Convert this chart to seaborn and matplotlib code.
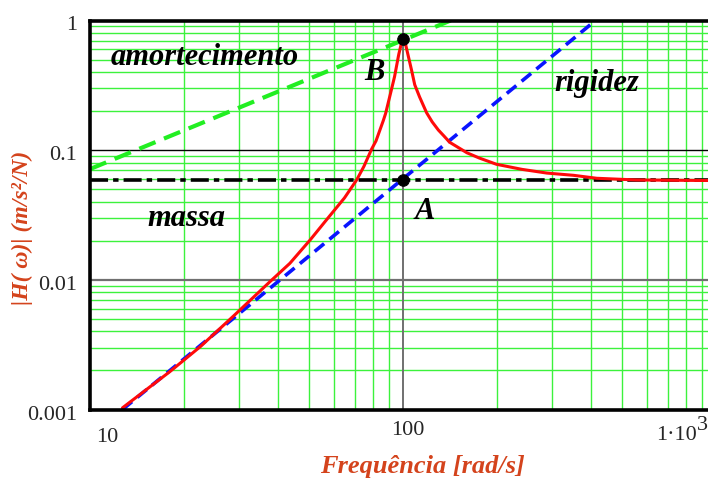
import matplotlib
matplotlib.use("Agg")
import matplotlib.pyplot as plt
import matplotlib.transforms as mtransforms
from matplotlib.ticker import LogLocator, NullFormatter
import seaborn as sns
import pandas as pd

# Accelerance curve of the single-degree-of-freedom system
freq_frf = [12.7, 18.0, 22.5, 28.6, 37.6, 43.5, 50.5, 57.6, 65.0, 71.1, 75.0,
            79.4, 82.0, 86.5, 88.0, 92.0, 94.0, 96.6, 97.0, 99.0, 100.0, 102.0,
            104.0, 106.5, 109.0, 113.0, 119.0, 124.0, 129.7, 135.0, 141.0,
            150.0, 160.0, 175.0, 199.0, 240.0, 288.0, 350.0, 416.0, 558.0,
            889.0, 1000.0]
accel_frf = [0.00103, 0.00196, 0.00305, 0.0052, 0.00969, 0.0134, 0.0203, 0.030,
             0.0428, 0.0589, 0.0749, 0.102, 0.118, 0.169, 0.192, 0.298, 0.370,
             0.525, 0.552, 0.678, 0.700, 0.649, 0.530, 0.414, 0.320, 0.257,
             0.194, 0.165, 0.143, 0.129, 0.115, 0.105, 0.0955, 0.0871, 0.0778,
             0.0711, 0.0666, 0.0640, 0.0607, 0.0589, 0.0584, 0.0584]

# Asymptotic lines: mass, stiffness and damping
freq_mass = [10.0, 1000.0]
accel_mass = [0.0588, 0.0588]
freq_stiff = [12.7, 412.0]
accel_stiff = [0.001, 1.0]
freq_damp = [10.0, 142.0]
accel_damp = [0.0715, 1.0]

# Marked points A (mass/stiffness crossing) and B (resonance peak)
point_freq = [100.0, 100.0]
point_accel = [0.0588, 0.725]

xtick_vals = [10, 100, 1000]
xtick_labels = ["10", "100", "1·10"]
ytick_vals = [0.001, 0.01, 0.1, 1]
ytick_labels = ["0.001", "0.01", "0.1", "1"]

sns.set_style("white")
plt.rcParams["font.family"] = ["Liberation Serif", "DejaVu Serif"]

W, H = 708, 482
fig = plt.figure(figsize=(W / 100, H / 100), dpi=100)
ax = fig.add_axes([90 / W, (H - 409.5) / H, (716 - 90) / W, (409.5 - 20.5) / H])

ax.set_xscale("log")
ax.set_yscale("log")

# Grid: green minor lines, dark major lines
grid_green = "#3cf23c"
ax.xaxis.set_minor_locator(LogLocator(base=10, subs=range(2, 10)))
ax.yaxis.set_minor_locator(LogLocator(base=10, subs=range(2, 10)))
ax.xaxis.set_minor_formatter(NullFormatter())
ax.yaxis.set_minor_formatter(NullFormatter())
ax.grid(True, which="minor", color=grid_green, lw=1.0, zorder=0)
ax.axvline(100, color="#707070", lw=1.4, zorder=1)
ax.axhline(0.1, color="black", lw=1.0, zorder=1)
ax.axhline(0.01, color="#707070", lw=1.6, zorder=1)

df_frf = pd.DataFrame({"f": freq_frf, "a": accel_frf})
df_mass = pd.DataFrame({"f": freq_mass, "a": accel_mass})
df_stiff = pd.DataFrame({"f": freq_stiff, "a": accel_stiff})
df_damp = pd.DataFrame({"f": freq_damp, "a": accel_damp})

sns.lineplot(data=df_damp, x="f", y="a", ax=ax, color="#22ee22", lw=3.0,
             linestyle=(0, (4.2, 2.2)), zorder=3)
sns.lineplot(data=df_stiff, x="f", y="a", ax=ax, color="#0a14ff", lw=2.6,
             linestyle=(0, (3.4, 1.9)), zorder=3)
sns.lineplot(data=df_mass, x="f", y="a", ax=ax, color="black", lw=2.6,
             linestyle=(0, (5.0, 1.4, 1.5, 1.4)), zorder=3)
sns.lineplot(data=df_frf, x="f", y="a", ax=ax, color="#ff0a0a", lw=2.2,
             zorder=4, sort=False)
sns.scatterplot(x=point_freq, y=point_accel, ax=ax, color="black", s=70,
                edgecolor="black", zorder=5)

ax.set_xlim(10, 1000)
ax.set_ylim(0.001, 1)

for side in ["left", "bottom", "top", "right"]:
    ax.spines[side].set_color("black")
    ax.spines[side].set_linewidth(2.6)
    ax.spines[side].set_zorder(6)

# Tick labels
ax.set_xticks(xtick_vals)
ax.set_xticklabels(xtick_labels, fontsize=16)
ax.set_yticks(ytick_vals)
ax.set_yticklabels(ytick_labels, fontsize=16)
ax.tick_params(axis="both", which="both", length=0)
ax.tick_params(axis="x", pad=8)
ax.tick_params(axis="y", pad=9)

offsets = [(6, -7, "left"), (5, 0, "center"), (-19, -5, "right")]
for lab, (dx, dy, ha) in zip(ax.get_xticklabels(), offsets):
    lab.set_ha(ha)
    lab.set_transform(lab.get_transform() +
                      mtransforms.ScaledTranslation(dx / 100, dy / 100,
                                                    fig.dpi_scale_trans))
for lab in ax.get_yticklabels():
    lab.set_transform(lab.get_transform() +
                      mtransforms.ScaledTranslation(0, -3 / 100, fig.dpi_scale_trans))

# Exponent of the last x tick label
ax.annotate("3", xy=(1000, 0), xycoords=("data", "axes fraction"),
            xytext=(-19, -20.5), textcoords="offset pixels",
            ha="left", va="baseline", fontsize=16, annotation_clip=False)

label_color = "#d4431c"
ax.set_xlabel("Frequência [rad/s]", fontsize=19, fontweight="bold",
              fontstyle="italic", color=label_color)
ax.set_ylabel("|H( ω)| (m/s²/N)", fontsize=17, fontweight="bold",
              fontstyle="italic", color=label_color)
ax.xaxis.set_label_coords((422 - 90) / (716 - 90), -(466 - 409.5) / (409.5 - 20.5))
ax.yaxis.set_label_coords(-(90 - 22) / (716 - 90), (409.5 - 228) / (409.5 - 20.5))
ax.xaxis.label.set_va("center")
ax.yaxis.label.set_va("center")

txt = dict(fontsize=22, fontweight="bold", fontstyle="italic", color="black",
           zorder=7)
ax.text(23.3, 0.52, "amortecimento", ha="center", va="center", **txt)
ax.text(417, 0.325, "rigidez", ha="center", va="center", **txt)
ax.text(20.3, 0.0295, "massa", ha="center", va="center", **txt)
ax.text(80.9, 0.40, "B", ha="center", va="center", **txt)
ax.text(117.5, 0.0335, "A", ha="center", va="center", **txt)

fig.savefig("out.png", dpi=100)
